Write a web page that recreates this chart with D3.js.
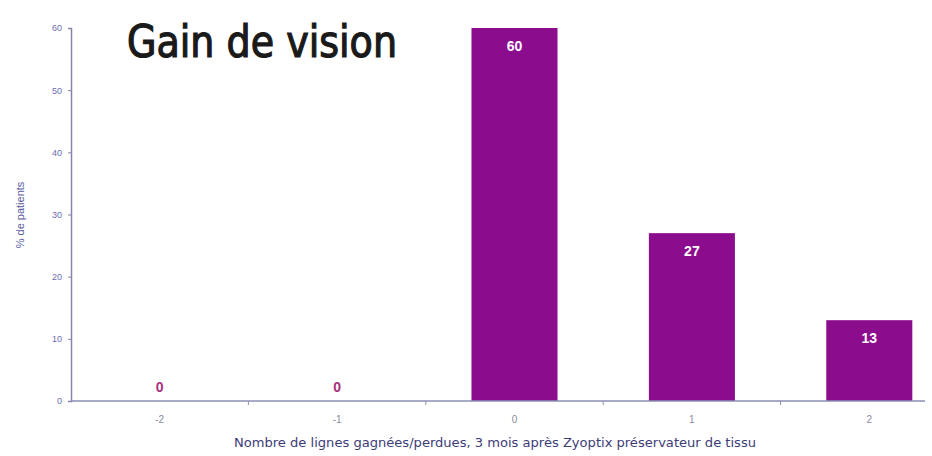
<!DOCTYPE html>
<html>
<head>
<meta charset="utf-8">
<script src="https://cdn.jsdelivr.net/npm/d3@7"></script>
<style>
  body { margin: 0; background: #fff; }
</style>
</head>
<body>
<div id="chart"></div>
<script>
// Data
const categories = ["-2", "-1", "0", "1", "2"];
const values = [0, 0, 60, 27, 13];
const yTicks = [0, 10, 20, 30, 40, 50, 60];

const width = 932, height = 456;
const barColor = "#8c0c8e";

const svg = d3.select("#chart")
    .append("svg")
    .attr("width", width)
    .attr("height", height);

// Scales
const x = d3.scaleBand()
    .domain(categories)
    .range([71, 958])
    .paddingInner(0.515)
    .paddingOuter(0.2575);

const y = d3.scaleLinear()
    .domain([0, 60])
    .range([401, 28]);

// Bars
svg.selectAll("rect.bar")
    .data(values)
    .enter()
    .append("rect")
    .attr("class", "bar")
    .attr("x", (d, i) => x(categories[i]))
    .attr("y", d => y(d))
    .attr("width", x.bandwidth())
    .attr("height", d => y(0) - y(d))
    .attr("fill", barColor);

// Value labels
svg.selectAll("text.val")
    .data(values)
    .enter()
    .append("text")
    .attr("class", "val")
    .attr("x", (d, i) => x(categories[i]) + x.bandwidth() / 2)
    .attr("y", d => d > 0 ? y(d) + 23 : y(0) - 9)
    .attr("text-anchor", "middle")
    .style("font-family", "Liberation Sans, Arial, sans-serif")
    .style("font-weight", "bold")
    .style("font-size", "14px")
    .style("fill", d => d > 0 ? "#ffffff" : "#a8307a")
    .text(d => d);

// Y axis
const yAxis = svg.append("g")
    .attr("transform", "translate(71,0)")
    .call(d3.axisLeft(y).tickValues(yTicks).tickSize(3).tickPadding(6));
yAxis.select(".domain").attr("stroke", "#8a82a8").attr("stroke-width", 1.5);
yAxis.selectAll(".tick line").attr("stroke", "#8a82a8");
yAxis.selectAll("text")
    .style("font-family", "Liberation Sans, Arial, sans-serif")
    .style("font-size", "9px")
    .style("fill", "#6c6cb0");

// X axis: tick marks between categories, labels at centres
const step = x.step();
const xAxis = svg.append("g").attr("transform", `translate(0,${y(0)})`);
xAxis.append("line")
    .attr("x1", 71).attr("x2", 925)
    .attr("y1", 0).attr("y2", 0)
    .attr("stroke", "#8a8fb4")
    .attr("stroke-width", 1.5);

xAxis.selectAll("line.tick")
    .data(categories.slice(0, 4))
    .enter()
    .append("line")
    .attr("class", "tick")
    .attr("x1", c => x(c) + x.bandwidth() / 2 + step / 2)
    .attr("x2", c => x(c) + x.bandwidth() / 2 + step / 2)
    .attr("y1", 0).attr("y2", 4)
    .attr("stroke", "#8a8fb4");

xAxis.selectAll("text.lab")
    .data(categories)
    .enter()
    .append("text")
    .attr("class", "lab")
    .attr("x", c => x(c) + x.bandwidth() / 2)
    .attr("y", 22)
    .attr("text-anchor", "middle")
    .style("font-family", "Liberation Sans, Arial, sans-serif")
    .style("font-size", "10px")
    .style("fill", "#8a8aa0")
    .text(c => c);

// Axis titles
svg.append("text")
    .attr("x", 495)
    .attr("y", 447)
    .attr("text-anchor", "middle")
    .attr("textLength", 522)
    .attr("lengthAdjust", "spacingAndGlyphs")
    .style("font-family", "DejaVu Sans Condensed, sans-serif")
    .style("font-size", "12px")
    .style("fill", "#3c3c78")
    .text("Nombre de lignes gagnées/perdues, 3 mois après Zyoptix préservateur de tissu");

svg.append("text")
    .attr("transform", "translate(24,215) rotate(-90)")
    .attr("text-anchor", "middle")
    .style("font-family", "Liberation Sans, Arial, sans-serif")
    .style("font-size", "11px")
    .style("fill", "#5a5aa0")
    .text("% de patients");

// Title (normal weight, thickened a little with a stroke)
svg.append("text")
    .attr("x", 127)
    .attr("y", 57)
    .attr("textLength", 270)
    .attr("lengthAdjust", "spacingAndGlyphs")
    .style("font-family", "DejaVu Sans Condensed, sans-serif")
    .style("font-weight", "normal")
    .style("font-size", "45px")
    .style("fill", "#1a1a1a")
    .style("stroke", "#1a1a1a")
    .style("stroke-width", "1.2px")
    .text("Gain de vision");
</script>
</body>
</html>
